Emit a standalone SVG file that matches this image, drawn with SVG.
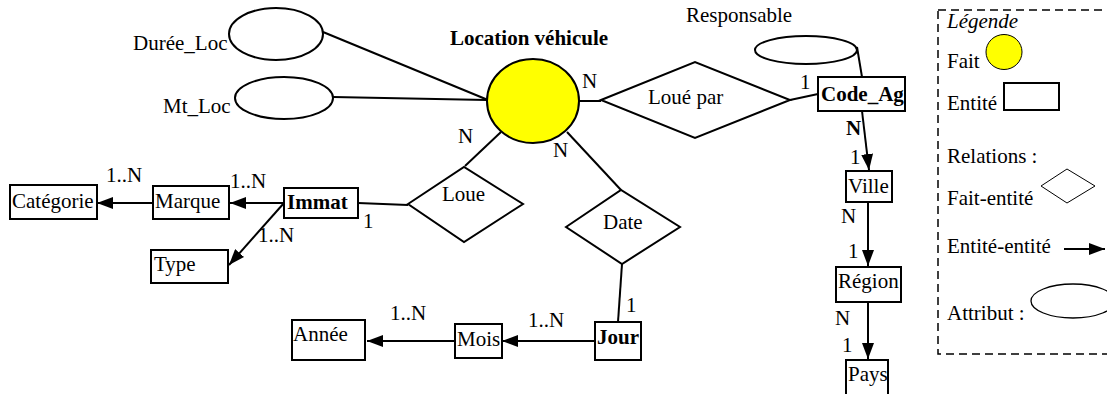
<svg xmlns="http://www.w3.org/2000/svg" width="1107" height="394" viewBox="0 0 1107 394" font-family="'Liberation Serif', 'Times New Roman', 'DejaVu Serif', serif">
<style>
text{font-family:'Liberation Serif','Times New Roman','DejaVu Serif',serif;font-size:21px;fill:#000}
.b{font-weight:bold}
.i{font-style:italic}
.s{fill:#fff;stroke:#000;stroke-width:2}
.thin{fill:#fff;stroke:#000;stroke-width:1}
.ln{stroke:#000;stroke-width:2;fill:none}
.ar{stroke:#000;stroke-width:2;fill:none;marker-end:url(#ah)}
</style>
<defs>
<marker id="ah" viewBox="0 0 16 12" refX="16" refY="6" markerWidth="16" markerHeight="12" markerUnits="userSpaceOnUse" orient="auto">
<path d="M0,0 L16,6 L0,12 Z" fill="#000"/>
</marker>
</defs>
<g id="connectors">
<line class="ln" x1="323" y1="32" x2="488" y2="100"/>
<line class="ln" x1="333" y1="97" x2="487" y2="100"/>
<line class="ln" x1="579" y1="101" x2="601" y2="101"/>
<line class="ln" x1="790" y1="100" x2="818" y2="94"/>
<line class="ln" x1="857" y1="47" x2="862" y2="77"/>
<line class="ar" x1="862" y1="111" x2="869" y2="170"/>
<line class="ar" x1="868" y1="202" x2="868" y2="266"/>
<line class="ar" x1="868" y1="302" x2="868" y2="359"/>
<line class="ln" x1="465" y1="166" x2="501" y2="132"/>
<line class="ln" x1="567" y1="132" x2="621" y2="190"/>
<line class="ln" x1="358" y1="203" x2="408" y2="205"/>
<line class="ar" x1="284" y1="203" x2="230" y2="203"/>
<line class="ar" x1="153" y1="203" x2="97" y2="203"/>
<line class="ar" x1="284" y1="203" x2="229" y2="265"/>
<line class="ln" x1="622" y1="264" x2="618" y2="322"/>
<line class="ar" x1="595" y1="341" x2="502" y2="341"/>
<line class="ar" x1="455" y1="341" x2="367" y2="341"/>
</g>
<g id="location">
<ellipse cx="533" cy="101" rx="46" ry="42" fill="#ffff00" stroke="#000" stroke-width="2"/>
<text x="450" y="45" class="b">Location véhicule</text>
</g>
<g id="duree_loc">
<ellipse class="s" cx="276" cy="34" rx="47" ry="26"/>
<text x="133" y="50">Durée_Loc</text>
</g>
<g id="mt_loc">
<ellipse class="s" cx="284" cy="98" rx="49" ry="21"/>
<text x="163" y="113">Mt_Loc</text>
</g>
<g id="loue_par">
<polygon class="s" points="601,100 695,62 790,100 695,138"/>
<text x="648" y="104">Loué par</text>
</g>
<g id="responsable">
<ellipse class="s" cx="806" cy="50" rx="51" ry="14"/>
<text x="686" y="22">Responsable</text>
</g>
<g id="code_ag">
<rect class="s" x="818" y="77" width="87" height="34"/>
<text x="821" y="101" class="b">Code_Ag</text>
</g>
<g id="ville">
<rect class="s" x="846" y="171" width="46" height="31"/>
<text x="848" y="193">Ville</text>
</g>
<g id="region">
<rect class="s" x="836" y="267" width="65" height="35"/>
<text x="838" y="288">Région</text>
</g>
<g id="pays">
<rect class="s" x="846" y="360" width="42" height="40"/>
<text x="848" y="381">Pays</text>
</g>
<g id="loue">
<polygon class="s" points="408,204 464,167 523,204 464,242"/>
<text x="442" y="201">Loue</text>
</g>
<g id="date">
<polygon class="s" points="566,227 621,190 680,227 622,264"/>
<text x="603" y="229">Date</text>
</g>
<g id="immat">
<rect class="s" x="284" y="188" width="74" height="30"/>
<text x="287" y="209" class="b">Immat</text>
</g>
<g id="marque">
<rect class="s" x="153" y="186" width="76" height="33"/>
<text x="155" y="208">Marque</text>
</g>
<g id="categorie">
<rect class="s" x="10" y="185" width="87" height="34"/>
<text x="12" y="208">Catégorie</text>
</g>
<g id="type">
<rect class="s" x="151" y="250" width="77" height="33"/>
<text x="154" y="271">Type</text>
</g>
<g id="jour">
<rect class="s" x="595" y="322" width="46" height="38"/>
<text x="597" y="344" class="b">Jour</text>
</g>
<g id="mois">
<rect class="s" x="455" y="324" width="47" height="34"/>
<text x="457" y="346">Mois</text>
</g>
<g id="annee">
<rect class="s" x="292" y="320" width="73" height="40"/>
<text x="293" y="341">Année</text>
</g>
<g id="labels">
<text x="582" y="88">N</text>
<text x="800" y="89">1</text>
<text x="846" y="135" class="b">N</text>
<text x="850" y="164">1</text>
<text x="841" y="223">N</text>
<text x="848" y="258">1</text>
<text x="835" y="325">N</text>
<text x="842" y="352">1</text>
<text x="458" y="143">N</text>
<text x="553" y="157">N</text>
<text x="363" y="228">1</text>
<text x="106" y="182">1..N</text>
<text x="230" y="188">1..N</text>
<text x="258" y="242">1..N</text>
<text x="626" y="312">1</text>
<text x="528" y="327">1..N</text>
<text x="390" y="320">1..N</text>
</g>
<g id="legende">
<rect x="938" y="10" width="200" height="344" fill="none" stroke="#000" stroke-width="1.5" stroke-dasharray="8,5"/>
<text x="947" y="28" class="i">Légende</text>
<text x="947" y="68">Fait</text>
<ellipse cx="1004" cy="52" rx="18" ry="17.5" fill="#ffff00" stroke="#000" stroke-width="1"/>
<text x="947" y="110">Entité</text>
<rect class="s" x="1004" y="83" width="55" height="27"/>
<text x="947" y="163">Relations :</text>
<text x="947" y="205">Fait-entité</text>
<polygon class="thin" points="1041,186 1067,169 1095,186 1067,203"/>
<text x="947" y="253">Entité-entité</text>
<line class="ar" x1="1064" y1="249" x2="1105" y2="249"/>
<text x="947" y="320">Attribut :</text>
<ellipse cx="1073" cy="301" rx="42" ry="17" fill="#fff" stroke="#000" stroke-width="1.3"/>
</g>
</svg>
